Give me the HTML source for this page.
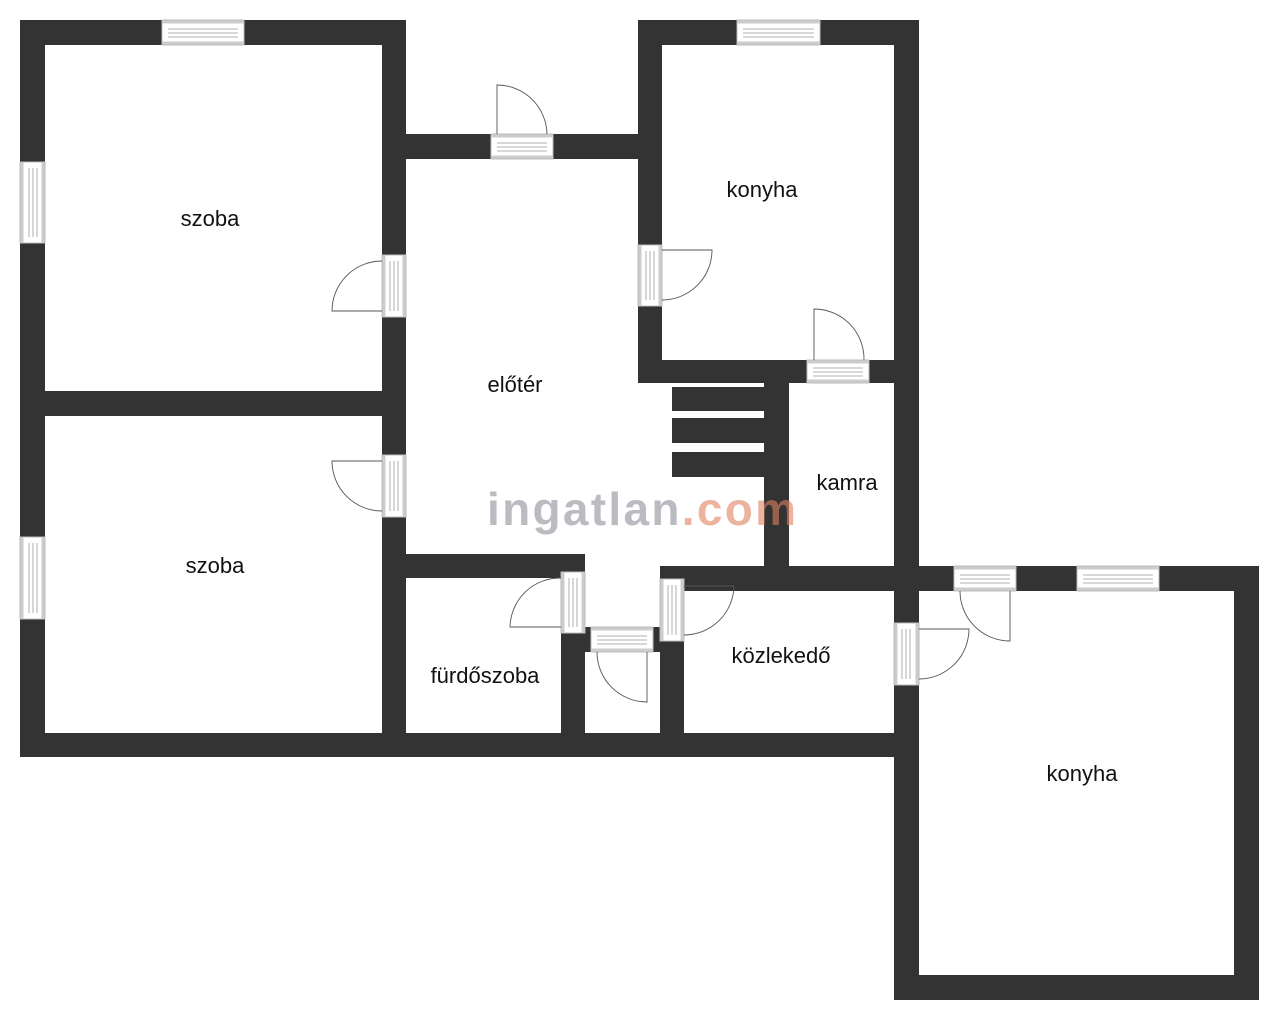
<!DOCTYPE html>
<html><head><meta charset="utf-8"><style>
html,body{margin:0;padding:0;background:#fff;}
svg{display:block;}
text{font-family:"Liberation Sans",sans-serif;}
</style></head><body>
<svg width="1280" height="1022" viewBox="0 0 1280 1022" xmlns="http://www.w3.org/2000/svg">
<g fill="#333">
<rect x="20" y="20" width="386" height="25"/>
<rect x="20" y="20" width="25" height="737"/>
<rect x="382" y="20" width="24" height="737"/>
<rect x="45" y="391" width="337" height="25"/>
<rect x="20" y="733" width="899" height="24"/>
<rect x="406" y="134" width="256" height="25"/>
<rect x="638" y="20" width="281" height="25"/>
<rect x="638" y="20" width="24" height="363"/>
<rect x="894" y="20" width="25" height="571"/>
<rect x="638" y="360" width="281" height="23"/>
<rect x="672" y="387" width="92" height="24"/>
<rect x="672" y="418" width="92" height="25"/>
<rect x="672" y="452" width="92" height="25"/>
<rect x="764" y="383" width="25" height="208"/>
<rect x="660" y="566" width="599" height="25"/>
<rect x="1234" y="566" width="25" height="434"/>
<rect x="894" y="975" width="365" height="25"/>
<rect x="894" y="566" width="25" height="434"/>
<rect x="406" y="554" width="179" height="24"/>
<rect x="561" y="554" width="24" height="179"/>
<rect x="585" y="627" width="6" height="25"/>
<rect x="653" y="627" width="7" height="25"/>
<rect x="660" y="566" width="24" height="167"/>
</g>
<g fill="#fff" stroke="#bbb" stroke-width="1">
<rect x="162" y="20" width="82" height="25"/>
<rect x="737" y="20" width="83" height="25"/>
<rect x="491" y="134" width="62" height="25"/>
<rect x="807" y="360" width="62" height="23"/>
<rect x="591" y="627" width="62" height="25"/>
<rect x="954" y="566" width="62" height="25"/>
<rect x="1077" y="566" width="82" height="25"/>
<rect x="20" y="162" width="25" height="81"/>
<rect x="20" y="537" width="25" height="82"/>
<rect x="382" y="255" width="24" height="62"/>
<rect x="382" y="455" width="24" height="62"/>
<rect x="638" y="245" width="24" height="61"/>
<rect x="561" y="572" width="24" height="61"/>
<rect x="660" y="579" width="24" height="62"/>
<rect x="894" y="623" width="25" height="62"/>
</g>
<g stroke="#ccc" stroke-width="3" fill="none">
<path d="M162 22H244M162 43H244M737 22H820M737 43H820M491 136H553M491 157H553M807 362H869M807 381H869M591 629H653M591 650H653M954 568H1016M954 589H1016M1077 568H1159M1077 589H1159"/>
<path d="M22 162V243M43 162V243M22 537V619M43 537V619M384 255V317M404 255V317M384 455V517M404 455V517M640 245V306M660 245V306M563 572V633M583 572V633M662 579V641M682 579V641M896 623V685M917 623V685"/>
</g>
<g stroke="#999" stroke-width="0.8" fill="none">
<path d="M168 29H238M168 33H238M168 37H238M743 29H814M743 33H814M743 37H814M497 143H547M497 147H547M497 151H547M813 368H863M813 372H863M813 376H863M597 636H647M597 640H647M597 644H647M960 575H1010M960 579H1010M960 583H1010M1083 575H1153M1083 579H1153M1083 583H1153"/>
<path d="M29 168V237M33 168V237M37 168V237M29 543V613M33 543V613M37 543V613M390 261V311M394 261V311M398 261V311M390 461V511M394 461V511M398 461V511M646 251V300M650 251V300M654 251V300M569 578V627M573 578V627M577 578V627M668 585V635M672 585V635M676 585V635M902 629V679M906 629V679M910 629V679"/>
</g>
<g stroke="#555" stroke-width="0.9" fill="none">
<path d="M382 311H332A50 50 0 0 1 382 261"/>
<path d="M382 461H332A50 50 0 0 0 382 511"/>
<path d="M497 134V85A50 50 0 0 1 547 134"/>
<path d="M662 250H712A50 50 0 0 1 662 300"/>
<path d="M814 360V309A50 50 0 0 1 864 360"/>
<path d="M561 627H510A50 50 0 0 1 561 578"/>
<path d="M647 652V702A50 50 0 0 1 597 652"/>
<path d="M684 586H734A50 50 0 0 1 684 635"/>
<path d="M1010 591V641A50 50 0 0 1 960 591"/>
<path d="M919 629H969A50 50 0 0 1 919 679"/>
</g>
<text x="487" y="525" font-size="46" font-weight="bold" fill="#8e8e9a" fill-opacity="0.6" letter-spacing="2.3">ingatlan<tspan fill="#e0805f">.com</tspan></text>
<g font-size="22" fill="#111" text-anchor="middle">
<text x="210" y="226">szoba</text>
<text x="215" y="573">szoba</text>
<text x="515" y="392">előtér</text>
<text x="762" y="197">konyha</text>
<text x="847" y="490">kamra</text>
<text x="485" y="683">fürdőszoba</text>
<text x="781" y="663">közlekedő</text>
<text x="1082" y="781">konyha</text>
</g>
</svg>
</body></html>
